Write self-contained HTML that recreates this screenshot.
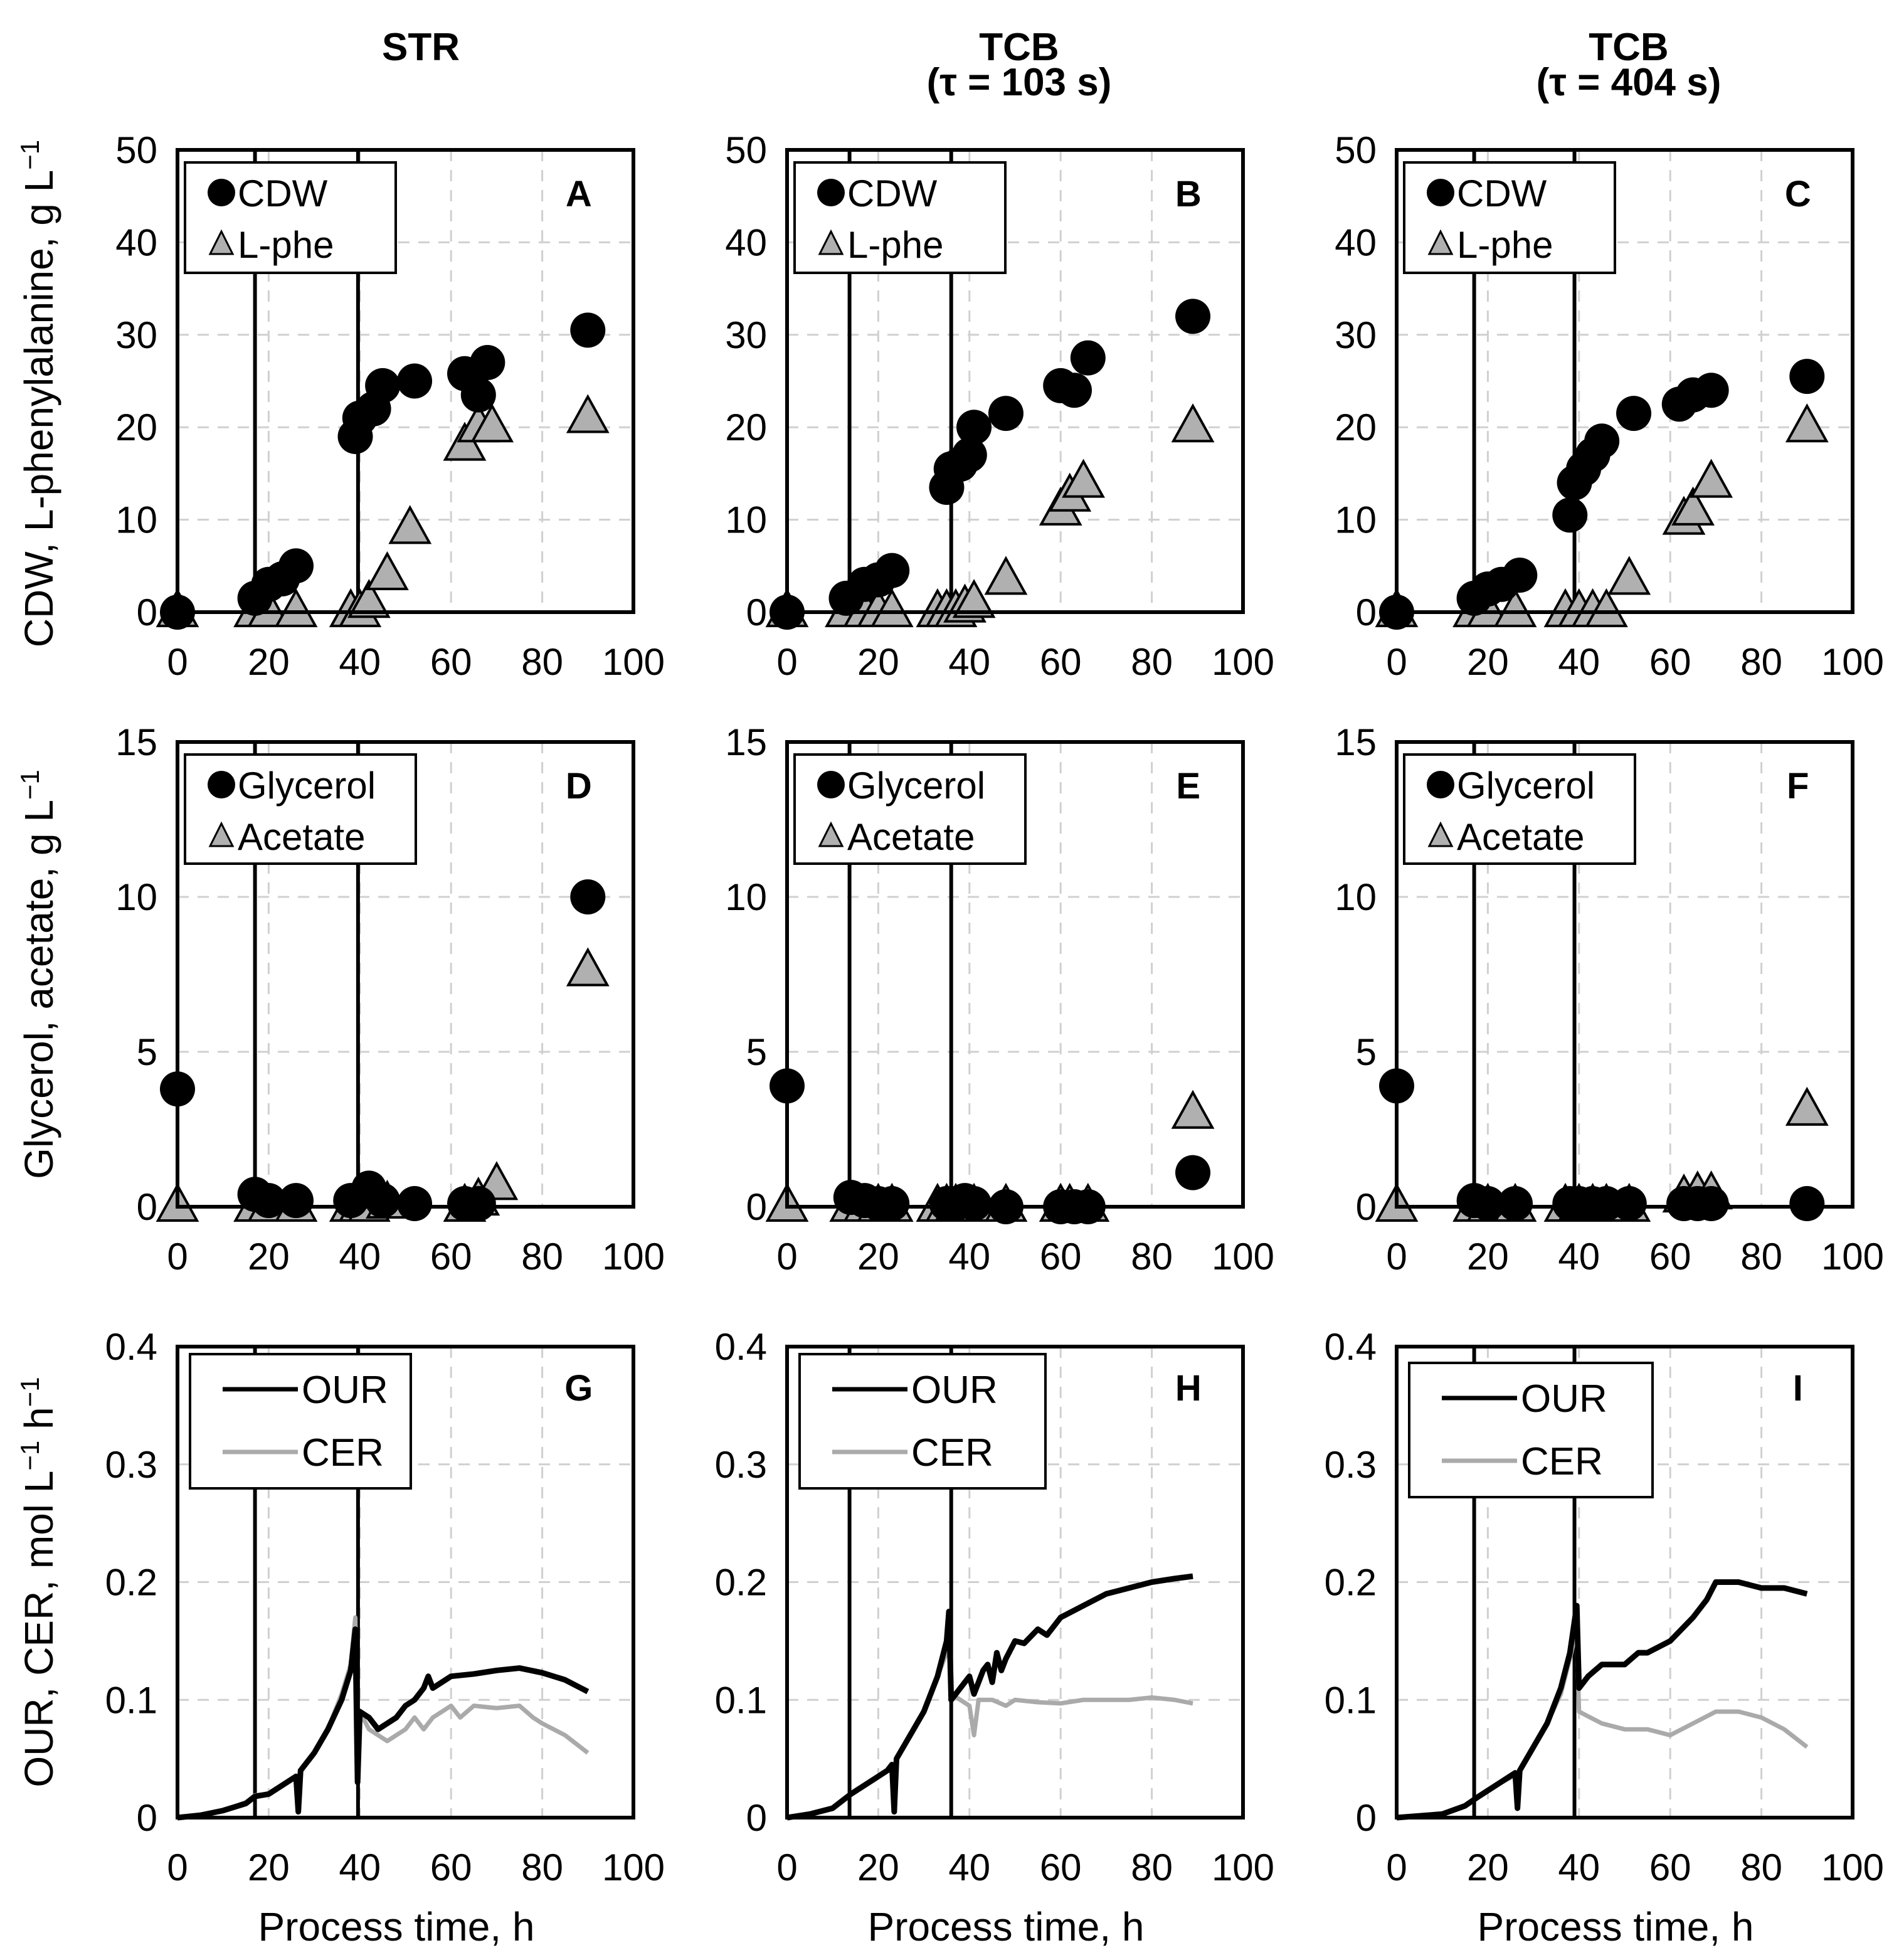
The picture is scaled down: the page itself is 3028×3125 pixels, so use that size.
<!DOCTYPE html>
<html><head><meta charset="utf-8">
<style>
html,body{margin:0;padding:0;background:#fff;}
svg{display:block;font-family:"Liberation Sans",Arial,sans-serif;}
</style></head>
<body>
<svg id="fig" width="3028" height="3125" viewBox="0 0 3028 3125" xmlns="http://www.w3.org/2000/svg"></svg>
<script>
// ---------- DATA ----------
const colTitles = [["STR"],["TCB","(τ = 103 s)"],["TCB","(τ = 404 s)"]];
const panelLetters = [["A","B","C"],["D","E","F"],["G","H","I"]];
const feedLines = [[17,39.6],[13.7,36],[17,39]];
const xTicks = [0,20,40,60,80,100];
const yTicksR1 = [0,10,20,30,40,50];
const yTicksR2 = [0,5,10,15];
const yTicksR3 = [0,0.1,0.2,0.3,0.4];
const yTickLabR3 = ["0","0.1","0.2","0.3","0.4"];

const cdwA = [[0,0],[17,1.5],[20,3],[23,3.6],[26,5],[39,19],[40,21],[43,22],[45,24.5],[52,25],[63,25.8],[66,23.5],[68,27],[90,30.5]];
const lpheA = [[0,0],[17,0],[20,0],[26,0],[38,0],[40,0],[42,1],[46,4],[51,9],[63,18],[66,20],[69,20],[90,21]];
const cdwB = [[0,0],[13,1.5],[17,3],[20,3.5],[23,4.5],[35,13.5],[36,15.5],[38,16],[40,17],[41,20],[48,21.5],[60,24.5],[63,24],[66,27.5],[89,32]];
const lpheB = [[0,0],[13,0],[17,0],[20,0],[23,0],[33,0],[35,0],[37,0],[39,0.5],[41,1],[48,3.5],[60,11],[62,12.5],[65,14],[89,20]];
const cdwC = [[0,0],[17,1.5],[20,2.5],[23,3],[27,4],[38,10.5],[39,14],[41,15.5],[43,17],[45,18.5],[52,21.5],[62,22.5],[65,23.5],[69,24],[90,25.5]];
const lpheC = [[0,0],[17,0],[20,0],[26,0],[37,0],[40,0],[43,0],[46,0],[51,3.5],[63,10],[65,11],[69,14],[90,20]];
const glyD = [[0,3.8],[17,0.4],[20,0.2],[26,0.2],[38,0.2],[42,0.6],[45,0.2],[52,0.1],[63,0.1],[66,0.1],[90,10]];
const aceD = [[0,0],[17,0],[20,0],[26,0],[38,0],[40,0],[42,0],[46,0.1],[63,0],[66,0.2],[70,0.7],[90,7.6]];
const glyE = [[0,3.9],[14,0.3],[17,0.2],[20,0.1],[23,0.1],[35,0.1],[37,0.1],[39,0.2],[41,0.1],[48,0],[60,0],[63,0],[66,0],[89,1.1]];
const aceE = [[0,0],[14,0],[17,0],[20,0],[23,0],[33,0],[35,0],[37,0],[39,0],[41,0],[48,0],[60,0],[62,0],[66,0],[89,3]];
const glyF = [[0,3.9],[17,0.2],[20,0.1],[26,0.1],[38,0.1],[40,0.1],[43,0.1],[46,0.1],[51,0.1],[63,0.1],[66,0.1],[69,0.1],[90,0.1]];
const aceF = [[0,0],[17,0],[20,0],[26,0],[37,0],[40,0],[43,0],[46,0],[51,0],[63,0.3],[66,0.4],[69,0.4],[90,3.1]];
const ourG = [[0,0],[5,0.002],[10,0.006],[15,0.012],[17,0.018],[20,0.02],[24,0.03],[26,0.035],[26.5,0.005],[27,0.04],[30,0.055],[33,0.075],[36,0.1],[38,0.125],[39,0.16],[39.5,0.03],[40,0.09],[42,0.085],[44,0.075],[46,0.08],[48,0.085],[50,0.095],[52,0.1],[54,0.11],[55,0.12],[56,0.11],[58,0.115],[60,0.12],[65,0.122],[70,0.125],[75,0.127],[80,0.123],[85,0.117],[90,0.107]];
const cerG = [[0,0],[5,0.002],[10,0.006],[15,0.013],[17,0.019],[20,0.02],[24,0.03],[26,0.034],[26.5,0.006],[27,0.04],[30,0.055],[33,0.075],[36,0.105],[38,0.13],[39,0.17],[39.5,0.03],[40,0.09],[42,0.075],[44,0.07],[46,0.065],[48,0.07],[50,0.075],[52,0.085],[54,0.075],[56,0.085],[58,0.09],[60,0.095],[62,0.085],[65,0.095],[70,0.093],[75,0.095],[78,0.085],[80,0.08],[85,0.07],[90,0.055]];
const ourH = [[0,0],[5,0.003],[10,0.008],[14,0.02],[18,0.03],[22,0.04],[23,0.045],[23.5,0.005],[24,0.05],[27,0.07],[30,0.09],[33,0.12],[35,0.15],[35.5,0.175],[36,0.1],[38,0.11],[40,0.12],[41,0.105],[42,0.115],[43,0.125],[44,0.13],[45,0.115],[46,0.14],[47,0.125],[48,0.135],[50,0.15],[52,0.148],[55,0.16],[57,0.155],[60,0.17],[65,0.18],[70,0.19],[75,0.195],[80,0.2],[85,0.203],[89,0.205]];
const cerH = [[0,0],[5,0.003],[10,0.008],[14,0.02],[18,0.03],[22,0.04],[23,0.044],[23.5,0.006],[24,0.05],[27,0.07],[30,0.09],[33,0.12],[35,0.14],[35.5,0.15],[36,0.105],[38,0.1],[40,0.095],[41,0.07],[42,0.1],[45,0.1],[48,0.095],[50,0.1],[55,0.098],[60,0.097],[65,0.1],[70,0.1],[75,0.1],[80,0.102],[85,0.1],[89,0.097]];
const ourI = [[0,0],[10,0.003],[15,0.01],[18,0.018],[22,0.028],[26,0.038],[26.5,0.008],[27,0.04],[30,0.06],[33,0.08],[36,0.11],[38,0.14],[39.5,0.18],[40,0.11],[42,0.12],[45,0.13],[50,0.13],[53,0.14],[55,0.14],[60,0.15],[65,0.17],[68,0.185],[70,0.2],[75,0.2],[80,0.195],[85,0.195],[90,0.19]];
const cerI = [[0,0],[10,0.003],[15,0.01],[18,0.018],[22,0.028],[26,0.036],[26.5,0.008],[27,0.04],[30,0.06],[33,0.08],[36,0.105],[38,0.135],[39.5,0.16],[40,0.09],[45,0.08],[50,0.075],[55,0.075],[60,0.07],[65,0.08],[70,0.09],[75,0.09],[80,0.085],[85,0.075],[90,0.06]];

const row1 = [[cdwA,lpheA],[cdwB,lpheB],[cdwC,lpheC]];
const row2 = [[glyD,aceD],[glyE,aceE],[glyF,aceF]];
const row3 = [[ourG,cerG],[ourH,cerH],[ourI,cerI]];

// ---------- LAYOUT ----------
const NS = "http://www.w3.org/2000/svg";
const svg = document.getElementById("fig");
const colX = [283,1255,2227];
const W = 727;
const rows = [{top:239,bot:976,max:50,ticks:yTicksR1},{top:1183,bot:1924,max:15,ticks:yTicksR2},{top:2147,bot:2898,max:0.4,ticks:yTicksR3}];
function mk(tag, attrs, parent){const e=document.createElementNS(NS,tag);for(const k in attrs)e.setAttribute(k,attrs[k]);(parent||svg).appendChild(e);return e;}
function txt(s,x,y,size,anchor,weight,parent){const t=mk("text",{x:x,y:y,"font-size":size,"text-anchor":anchor||"middle","font-weight":weight||"normal",fill:"#000"},parent);t.textContent=s;return t;}

colTitles.forEach((lines,c)=>{
  const cx = colX[c]+ (c===0?388:370);
  lines.forEach((l,i)=>{
    const t = txt(l,cx,96+i*56,62,"middle","bold");
    
    
  });
});

const yTitles = [["CDW, L-phenylalanine, g L","−1",""],["Glycerol, acetate, g L","−1",""],["OUR, CER, mol L","−1"," h","−1"]];
rows.forEach((r,ri)=>{
  const cy=(r.top+r.bot)/2 + (ri===0?20:0);
  const t=mk("text",{x:0,y:0,"font-size":64,"text-anchor":"middle",transform:`translate(84 ${cy}) rotate(-90)`});
  
  
  const parts = yTitles[ri];
  parts.forEach((p,i)=>{ if(!p) return; const ts=mk("tspan",{},t); if(p==="−1"){ts.setAttribute("font-size",42);ts.setAttribute("dy",-22);} else if(i>0){ts.setAttribute("dy",22);} ts.textContent=p;});
});

function xs(c,v){return colX[c]+v/100*W;}
function ys(r,v){return r.bot-(v/r.max)*(r.bot-r.top);}

rows.forEach((r,ri)=>{
  colX.forEach((x0,c)=>{
    const g=mk("g",{});
    
    
    xTicks.slice(1,-1).forEach(t=>{
      const l=mk("line",{x1:xs(c,t),x2:xs(c,t),y1:r.top,y2:r.bot,stroke:"#d0d0d0","stroke-width":3,"stroke-dasharray":"18 14"},g);
      
      
    });
    r.ticks.slice(1,-1).forEach(t=>{
      const l=mk("line",{x1:x0,x2:x0+W,y1:ys(r,t),y2:ys(r,t),stroke:"#d0d0d0","stroke-width":3,"stroke-dasharray":"18 14"},g);
      
      
    });
    feedLines[c].forEach(t=>{
      const l=mk("line",{x1:xs(c,t),x2:xs(c,t),y1:r.top,y2:r.bot,stroke:"#000","stroke-width":6},g);
      
      
    });
    const data = ri===0?row1[c]:ri===1?row2[c]:row3[c];
    if(ri<2){
      data[1].forEach(p=>{
        const X=xs(c,p[0]),Y=ys(r,p[1]);
        const tri=mk("polygon",{points:`${X},${Y-34} ${X-31},${Y+22} ${X+31},${Y+22}`,fill:"#b0b0b0",stroke:"#000","stroke-width":4},g);
        
        
      });
      data[0].forEach(p=>{
        const ci=mk("circle",{cx:xs(c,p[0]),cy:ys(r,p[1]),r:28,fill:"#000"},g);
        
        
      });
    } else {
      const pts=s=>s.map(p=>xs(c,p[0])+","+ys(r,p[1])).join(" ");
      const cL=mk("polyline",{points:pts(data[1]),fill:"none",stroke:"#aaaaaa","stroke-width":7,"stroke-linejoin":"round"},g);
      
      
      const oL=mk("polyline",{points:pts(data[0]),fill:"none",stroke:"#000","stroke-width":9,"stroke-linejoin":"round"},g);
      
      
    }
    const fr=mk("rect",{x:x0,y:r.top,width:W,height:r.bot-r.top,fill:"none",stroke:"#000","stroke-width":6},g);
    
    
    xTicks.forEach(t=>{
      const tl=txt(String(t),xs(c,t),r.bot+100,60,"middle","normal",g);
      
      
    });
    r.ticks.forEach((t,i)=>{
      const s = ri===2?yTickLabR3[i]:String(t);
      const tl=txt(s,x0-32,ys(r,t)+21,60,"end","normal",g);
      
      
    });
    const pl=txt(panelLetters[ri][c],x0+W*0.88,r.top+(ri===2?86:90),58,"middle","bold",g);
    
    
    const lg=mk("g",{},g);
    
    
    if(ri<2){
      const lw = ri===0?336:368, lh = ri===0?176:174;
      const lx=x0+12, ly=r.top+20;
      mk("rect",{x:lx,y:ly,width:lw,height:lh,fill:"#fff",stroke:"#000","stroke-width":4},lg);
      const names = ri===0?["CDW","L-phe"]:["Glycerol","Acetate"];
      const c1=mk("circle",{cx:lx+58,cy:ly+48,r:22,fill:"#000"},lg);
      
      
      const X=lx+58,Y=ly+132;
      mk("polygon",{points:`${X},${Y-22} ${X-18},${Y+14} ${X+18},${Y+14}`,fill:"#b0b0b0",stroke:"#000","stroke-width":3},lg);
      txt(names[0],lx+84,ly+70,60,"start","normal",lg);
      txt(names[1],lx+84,ly+152,60,"start","normal",lg);
    } else {
      const lx=x0+ (c===2?20:20), ly=r.top+12+(c===2?14:0), lw=c===0?352:(c===1?392:388), lh=214;
      mk("rect",{x:lx,y:ly,width:lw,height:lh,fill:"#fff",stroke:"#000","stroke-width":4},lg);
      mk("line",{x1:lx+52,x2:lx+172,y1:ly+56,y2:ly+56,stroke:"#000","stroke-width":7},lg);
      mk("line",{x1:lx+52,x2:lx+172,y1:ly+156,y2:ly+156,stroke:"#aaaaaa","stroke-width":7},lg);
      txt("OUR",lx+178,ly+78,62,"start","normal",lg);
      txt("CER",lx+178,ly+178,62,"start","normal",lg);
    }
    if(ri===2){
      const xt=txt("Process time, h",x0+W*0.48,3094,64,"middle","normal");
      
      
    }
  });
});
</script>
</body></html>
